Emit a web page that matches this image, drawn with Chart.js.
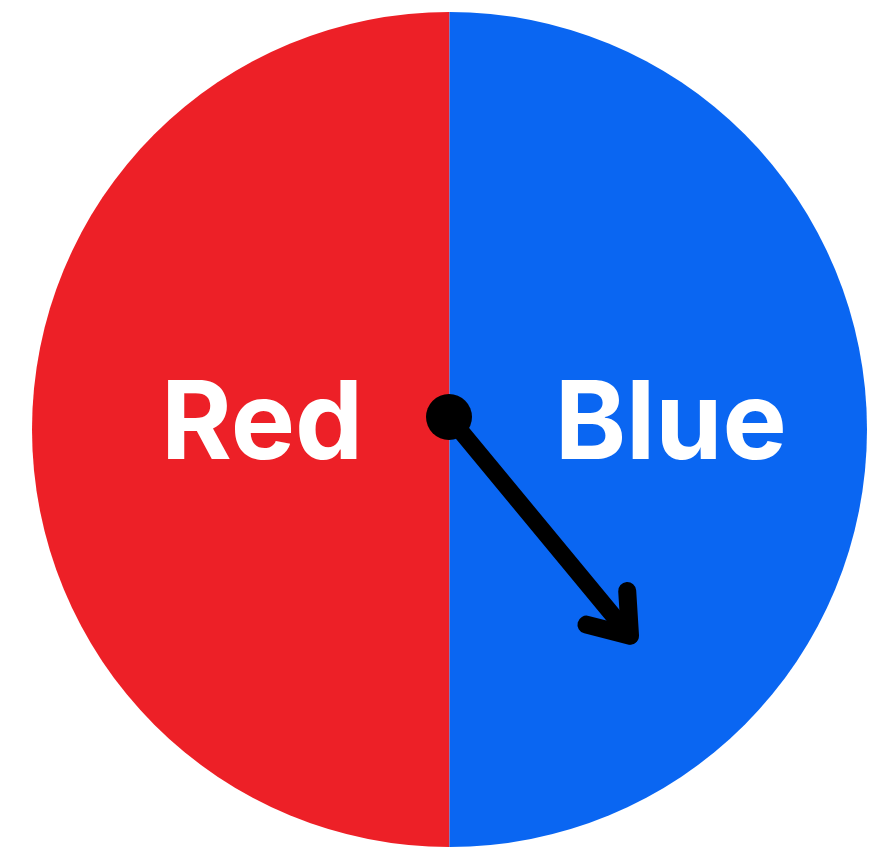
<!DOCTYPE html>
<html>
<head>
<meta charset="utf-8">
<script src="https://cdn.jsdelivr.net/npm/chart.js@4/dist/chart.umd.min.js"></script>
<style>
  html, body { margin: 0; padding: 0; background: #ffffff; }
  #wrap { width: 892px; height: 849px; position: relative; }
</style>
</head>
<body>
<div id="wrap"><canvas id="c" width="892" height="849"></canvas></div>
<script>
// Data
const categories = ['Red', 'Blue'];
const shares = [50, 50];
const sliceColors = ['#ED2027', '#0A66F2'];
const pointerAngleDeg = 50.4; // direction the spinner arrow points (clockwise from +x)

const spinnerPlugin = {
  id: 'spinner',
  afterDatasetsDraw(chart) {
    const ctx = chart.ctx;
    const meta = chart.getDatasetMeta(0);
    const arc0 = meta.data[0];
    const cx = arc0.x, cy = arc0.y, r = arc0.outerRadius;
    // labels
    ctx.save();
    ctx.fillStyle = '#ffffff';
    ctx.font = 'bold 108px Inter, "Open Sans", sans-serif';
    ctx.textAlign = 'center';
    ctx.textBaseline = 'alphabetic';
    const labelOffsets = [-0.449, 0.53];
    meta.data.forEach((arc, i) => {
      ctx.fillText(categories[i], cx + labelOffsets[i] * r, cy + 0.071 * r);
    });
    // pointer
    const px = cx - 0.5, py = cy - 12.5;
    const a = pointerAngleDeg * Math.PI / 180;
    const len = 284;
    const tx = px + Math.cos(a) * len, ty = py + Math.sin(a) * len;
    ctx.strokeStyle = '#000000';
    ctx.lineCap = 'round';
    ctx.lineJoin = 'round';
    ctx.lineWidth = 17;
    ctx.beginPath();
    ctx.moveTo(px, py);
    ctx.lineTo(tx, ty);
    ctx.stroke();
    ctx.lineWidth = 18;
    const back = a + Math.PI;
    const hl = 45, spread = 36 * Math.PI / 180;
    ctx.beginPath();
    ctx.moveTo(tx + Math.cos(back + spread) * hl, ty + Math.sin(back + spread) * hl);
    ctx.lineTo(tx, ty);
    ctx.lineTo(tx + Math.cos(back - spread) * hl, ty + Math.sin(back - spread) * hl);
    ctx.stroke();
    ctx.fillStyle = '#000000';
    ctx.beginPath();
    ctx.arc(px, py, 23, 0, Math.PI * 2);
    ctx.fill();
    ctx.restore();
  }
};

new Chart(document.getElementById('c'), {
  type: 'pie',
  data: {
    labels: categories,
    datasets: [{
      data: shares,
      backgroundColor: sliceColors,
      borderWidth: 0
    }]
  },
  options: {
    responsive: false,
    animation: false,
    rotation: 180,
    layout: { padding: { left: 32, right: 25, top: 12, bottom: 2 } },
    plugins: {
      legend: { display: false },
      tooltip: { enabled: false },
      title: { display: false }
    }
  },
  plugins: [spinnerPlugin]
});
</script>
</body>
</html>
